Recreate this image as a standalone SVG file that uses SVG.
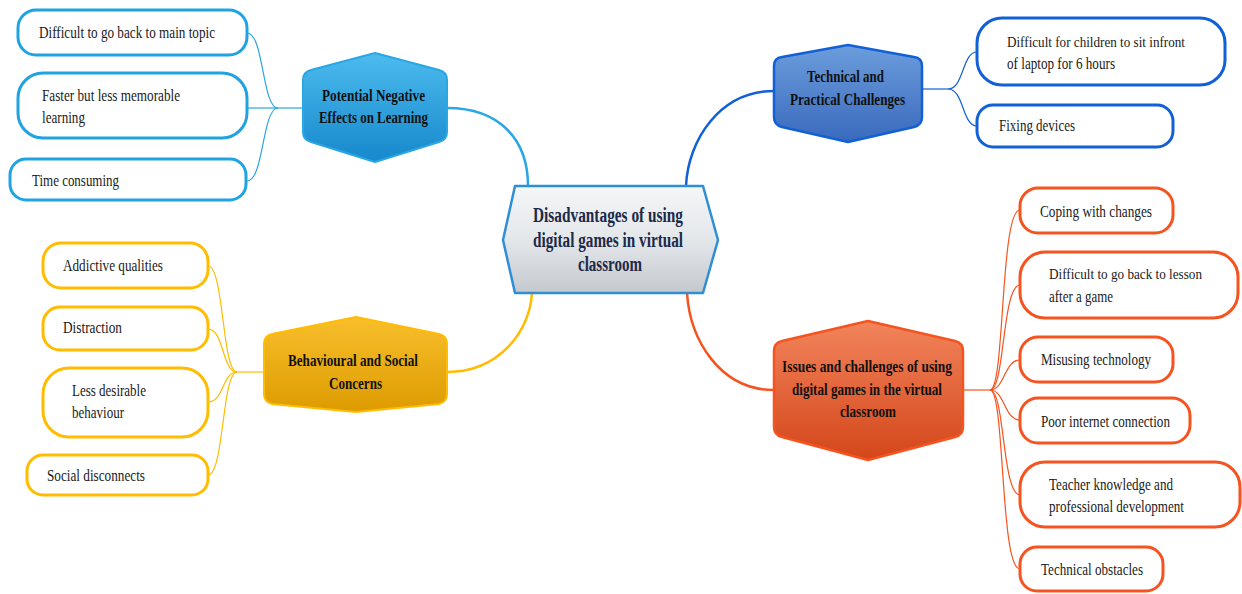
<svg xmlns="http://www.w3.org/2000/svg" width="1242" height="594" viewBox="0 0 1242 594">
<defs>
<linearGradient id="gC" x1="0" y1="0" x2="0" y2="1"><stop offset="0" stop-color="#f4f6f8"/><stop offset="0.5" stop-color="#e4e7ea"/><stop offset="1" stop-color="#c4c9ce"/></linearGradient>
<linearGradient id="gB" x1="0" y1="0" x2="0" y2="1"><stop offset="0" stop-color="#4cbbee"/><stop offset="1" stop-color="#1688cc"/></linearGradient>
<linearGradient id="gT" x1="0" y1="0" x2="0" y2="1"><stop offset="0" stop-color="#6b9ddc"/><stop offset="1" stop-color="#3a6abd"/></linearGradient>
<linearGradient id="gY" x1="0" y1="0" x2="0" y2="1"><stop offset="0" stop-color="#f8bf2c"/><stop offset="1" stop-color="#dd9b00"/></linearGradient>
<linearGradient id="gO" x1="0" y1="0" x2="0" y2="1"><stop offset="0" stop-color="#f2845c"/><stop offset="1" stop-color="#d4461a"/></linearGradient>
</defs>
<style>
.lf{fill:#ffffff;stroke-width:3}
.lb{stroke:#1fa3e3}
.lt{stroke:#1160d6}
.ly{stroke:#ffbc00}
.lo{stroke:#f55420}
.t{font-family:"Liberation Serif","Times New Roman",serif;font-size:17px;fill:#1a1a1a}
.s{font-size:15.5px}
.h{font-family:"Liberation Serif","Times New Roman",serif;font-size:17px;font-weight:bold;fill:#111111}
.c{font-family:"Liberation Serif","Times New Roman",serif;font-size:20px;font-weight:bold;fill:#1c2a4a}
.cn{fill:none}
.hx{stroke-linejoin:round}
</style>
<rect width="1242" height="594" fill="#ffffff"/>
<g id="connectors" class="cn">
<path d="M447,108 C500,108 528,140 528,186" stroke="#29a6e4" stroke-width="2.5"/>
<path d="M774,91 C720,91 688,140 686,186" stroke="#1160d6" stroke-width="2.5"/>
<path d="M447,372 C500,372 530,330 532,293" stroke="#ffbc00" stroke-width="2.5"/>
<path d="M774,390 C720,390 690,340 687,293" stroke="#f55420" stroke-width="2.5"/>
<g stroke="#29a6e4" stroke-width="1.2">
<path d="M303,108 L278,108"/>
<path d="M278,108 C262,108 264,33 247,33"/>
<path d="M278,108 L247,108"/>
<path d="M278,108 C262,108 264,181 247,181"/>
</g>
<g stroke="#1160d6" stroke-width="1.2">
<path d="M922,89 L948,89"/>
<path d="M948,89 C964,89 962,52 977,52"/>
<path d="M948,89 C964,89 962,126 977,126"/>
</g>
<g stroke="#ffbc00" stroke-width="1.2">
<path d="M264,372 L237,372"/>
<path d="M237,372 C222,372 224,266 208,266"/>
<path d="M237,372 C222,372 224,329 208,329"/>
<path d="M237,372 C222,372 224,402 208,402"/>
<path d="M237,372 C222,372 224,475 208,475"/>
</g>
<g stroke="#f55420" stroke-width="1.2">
<path d="M963,390 L990,390"/>
<path d="M990,390 C1005,390 1000,210 1020,210"/>
<path d="M990,390 C1005,390 1002,285 1020,285"/>
<path d="M990,390 C1005,390 1004,360 1020,360"/>
<path d="M990,390 C1005,390 1004,420 1020,420"/>
<path d="M990,390 C1005,390 1002,495 1020,495"/>
<path d="M990,390 C1005,390 1000,569 1020,569"/>
</g>
</g>
<g id="center">
<polygon class="hx" points="503,240 515,186 703,186 718,240 703,293 515,293" fill="url(#gC)" stroke="#2f8fd6" stroke-width="2.5"/>
<text class="c" x="533" y="222" textLength="150" lengthAdjust="spacingAndGlyphs">Disadvantages of using</text>
<text class="c" x="533" y="247" textLength="150" lengthAdjust="spacingAndGlyphs">digital games in virtual</text>
<text class="c" x="578" y="271" textLength="64" lengthAdjust="spacingAndGlyphs">classroom</text>
</g>
<g id="potential">
<path class="hx" d="M303,80 Q303,72 311,70 L375,53 L439,70 Q447,72 447,80 L447,132 Q447,140 439,142 L375,162 L311,142 Q303,140 303,132 Z" fill="url(#gB)" stroke="#29a6e4" stroke-width="2"/>
<text class="h" x="322" y="101" textLength="103" lengthAdjust="spacingAndGlyphs">Potential Negative</text>
<text class="h" x="319" y="123" textLength="109" lengthAdjust="spacingAndGlyphs">Effects on Learning</text>
</g>
<g id="technical">
<path class="hx" d="M774,66 Q774,58 782,57 L848,45 L914,57 Q922,58 922,66 L922,117 Q922,125 914,127 L848,142 L782,127 Q774,125 774,117 Z" fill="url(#gT)" stroke="#1160d6" stroke-width="2.5"/>
<text class="h" x="807" y="82" textLength="77" lengthAdjust="spacingAndGlyphs">Technical and</text>
<text class="h" x="790" y="105" textLength="115" lengthAdjust="spacingAndGlyphs">Practical Challenges</text>
</g>
<g id="behavioural">
<path class="hx" d="M264,344 Q264,336 272,334 L356,317 L439,334 Q447,336 447,344 L447,394 Q447,402 439,404 L356,412 L272,404 Q264,402 264,394 Z" fill="url(#gY)" stroke="#ffbc00" stroke-width="2"/>
<text class="h" x="288" y="366" textLength="130" lengthAdjust="spacingAndGlyphs">Behavioural and Social</text>
<text class="h" x="329" y="389" textLength="53" lengthAdjust="spacingAndGlyphs">Concerns</text>
</g>
<g id="issues">
<path class="hx" d="M774,351 Q774,343 782,341 L868,321 L955,341 Q963,343 963,351 L963,427 Q963,435 955,437 L868,460 L782,437 Q774,435 774,427 Z" fill="url(#gO)" stroke="#f55420" stroke-width="2.5"/>
<text class="h" x="782" y="372" textLength="170" lengthAdjust="spacingAndGlyphs">Issues and challenges of  using</text>
<text class="h" x="792" y="395" textLength="150" lengthAdjust="spacingAndGlyphs">digital games in the virtual</text>
<text class="h" x="840" y="417" textLength="56" lengthAdjust="spacingAndGlyphs">classroom</text>
</g>
<g id="leaf-b1"><rect class="lf lb" x="18" y="10" width="229" height="45" rx="18"/><text class="t" x="39" y="38" textLength="176" lengthAdjust="spacingAndGlyphs">Difficult to go back to main topic</text></g>
<g id="leaf-b2"><rect class="lf lb" x="18" y="73" width="229" height="65" rx="25"/><text class="t" x="42" y="101" textLength="138" lengthAdjust="spacingAndGlyphs">Faster but less memorable</text><text class="t" x="42" y="123" textLength="43" lengthAdjust="spacingAndGlyphs">learning</text></g>
<g id="leaf-b3"><rect class="lf lb" x="10" y="159" width="236" height="41" rx="16"/><text class="t" x="32" y="186" textLength="87" lengthAdjust="spacingAndGlyphs">Time consuming</text></g>
<g id="leaf-t1"><rect class="lf lt" x="977" y="18" width="248" height="67" rx="25"/><text class="t s" x="1007" y="47" textLength="178" lengthAdjust="spacingAndGlyphs">Difficult for children to sit infront</text><text class="t" x="1007" y="69" textLength="108" lengthAdjust="spacingAndGlyphs">of laptop for 6 hours</text></g>
<g id="leaf-t2"><rect class="lf lt" x="977" y="105" width="196" height="42" rx="16"/><text class="t" x="999" y="131" textLength="76" lengthAdjust="spacingAndGlyphs">Fixing devices</text></g>
<g id="leaf-y1"><rect class="lf ly" x="43" y="243" width="165" height="45" rx="18"/><text class="t" x="63" y="271" textLength="100" lengthAdjust="spacingAndGlyphs">Addictive qualities</text></g>
<g id="leaf-y2"><rect class="lf ly" x="43" y="307" width="165" height="43" rx="17"/><text class="t" x="63" y="333" textLength="59" lengthAdjust="spacingAndGlyphs">Distraction</text></g>
<g id="leaf-y3"><rect class="lf ly" x="43" y="368" width="165" height="69" rx="26"/><text class="t" x="72" y="396" textLength="74" lengthAdjust="spacingAndGlyphs">Less desirable</text><text class="t" x="72" y="418" textLength="52" lengthAdjust="spacingAndGlyphs">behaviour</text></g>
<g id="leaf-y4"><rect class="lf ly" x="27" y="455" width="181" height="40" rx="16"/><text class="t" x="47" y="481" textLength="98" lengthAdjust="spacingAndGlyphs">Social disconnects</text></g>
<g id="leaf-o1"><rect class="lf lo" x="1020" y="188" width="153" height="45" rx="18"/><text class="t" x="1040" y="217" textLength="112" lengthAdjust="spacingAndGlyphs">Coping with changes</text></g>
<g id="leaf-o2"><rect class="lf lo" x="1020" y="252" width="218" height="66" rx="25"/><text class="t s" x="1049" y="279" textLength="153" lengthAdjust="spacingAndGlyphs">Difficult to go back to lesson</text><text class="t" x="1049" y="302" textLength="64" lengthAdjust="spacingAndGlyphs">after a game</text></g>
<g id="leaf-o3"><rect class="lf lo" x="1020" y="337" width="153" height="45" rx="18"/><text class="t" x="1041" y="365" textLength="110" lengthAdjust="spacingAndGlyphs">Misusing technology</text></g>
<g id="leaf-o4"><rect class="lf lo" x="1020" y="398" width="170" height="45" rx="18"/><text class="t" x="1041" y="427" textLength="129" lengthAdjust="spacingAndGlyphs">Poor internet connection</text></g>
<g id="leaf-o5"><rect class="lf lo" x="1020" y="462" width="220" height="65" rx="25"/><text class="t" x="1049" y="490" textLength="124" lengthAdjust="spacingAndGlyphs">Teacher knowledge and</text><text class="t" x="1049" y="512" textLength="135" lengthAdjust="spacingAndGlyphs">professional development</text></g>
<g id="leaf-o6"><rect class="lf lo" x="1020" y="547" width="143" height="44" rx="17"/><text class="t" x="1041" y="575" textLength="102" lengthAdjust="spacingAndGlyphs">Technical obstacles</text></g>
</svg>
